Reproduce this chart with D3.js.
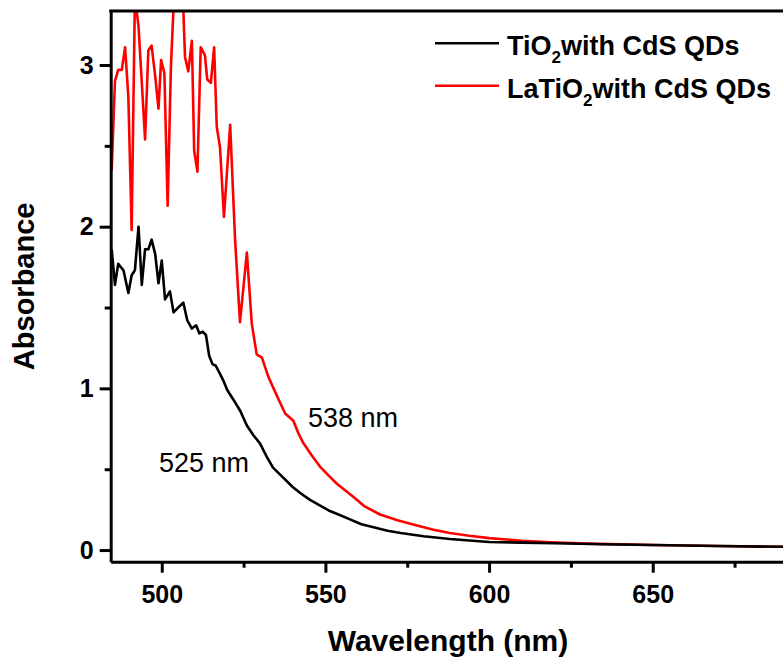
<!DOCTYPE html>
<html>
<meta charset="utf-8">
<style>
    body { margin: 0; background: #fff; }
    svg { display: block; }
    text { font-family: "Liberation Sans", Arial, sans-serif; fill: #000; }
    .axis path, .axis line { stroke: #000; stroke-width: 3; fill: none; }
    .axis text { font-size: 25px; font-weight: bold; }
    .curve { fill: none; stroke-width: 2.6; stroke-linejoin: round; }
</style>
<body>
<div id="chart1"></div>
<script src="https://cdn.jsdelivr.net/npm/d3@7"></script>
<script>
    // black curve: TiO2 with CdS QDs
    var wlBlack = [484.7, 485.7, 486.7, 488.3, 489.8, 490.8, 491.8, 492.9, 493.9, 494.9, 495.9, 496.9, 498.0, 499.0, 500.0,
        501.0, 502.5, 503.6, 505.0, 506.6, 507.8, 509.2, 510.5, 511.5, 512.5, 513.5, 514.5, 515.5, 516.5, 517.8,
        519, 520, 521.9, 524, 526, 528, 530, 532, 534, 536, 538, 540, 542.5, 545.3, 548, 551, 554, 557.5, 561,
        565, 569, 573, 580, 588, 595, 600, 610, 620, 635, 650, 670, 690];
    var absBlack = [1.86, 1.64, 1.77, 1.73, 1.59, 1.70, 1.73, 2.00, 1.64, 1.86, 1.86, 1.92, 1.83, 1.65, 1.79,
        1.55, 1.60, 1.47, 1.50, 1.53, 1.42, 1.37, 1.39, 1.34, 1.35, 1.33, 1.20, 1.15, 1.14, 1.09,
        1.04, 0.99, 0.93, 0.86, 0.77, 0.71, 0.66, 0.58, 0.51, 0.47, 0.43, 0.39, 0.35, 0.31, 0.28, 0.245, 0.22, 0.19, 0.16,
        0.14, 0.12, 0.105, 0.085, 0.068, 0.058, 0.050, 0.046, 0.042, 0.036, 0.031, 0.025, 0.020];

    // red curve: LaTiO2 with CdS QDs
    var wlRed = [484.7, 485.7, 486.7, 487.8, 488.8, 489.8, 490.8, 491.8, 492.9, 493.9, 494.9, 495.9, 496.9, 498.0, 499.0,
        499.8, 500.8, 501.8, 502.8, 503.8, 506.4, 507.1, 508.1, 509.2, 509.9, 510.9, 511.9, 513.2, 513.9, 515.0,
        516.0, 516.8, 517.8, 519.0, 520.9, 522.4, 523.9, 526.0, 527.5, 529.0, 530.6, 532.6, 534.6, 536.2, 537.7,
        540.2, 541.8, 543.3, 546, 548.4, 551, 553.5, 556, 558.5, 562, 566.7, 572, 577.4, 583, 588, 594, 600,
        610, 619, 630, 640, 650, 670, 690];
    var absRed = [2.35, 2.90, 2.97, 2.97, 3.11, 2.80, 1.98, 3.42, 3.24, 2.89, 2.54, 3.09, 3.12, 2.93, 2.73,
        3.03, 2.95, 2.13, 2.99, 3.45, 3.45, 3.05, 2.96, 3.15, 2.47, 2.34, 3.11, 3.06, 2.91, 2.89,
        3.11, 2.62, 2.49, 2.06, 2.63, 1.92, 1.41, 1.84, 1.40, 1.21, 1.19, 1.07, 0.98, 0.91, 0.845,
        0.80, 0.72, 0.66, 0.58, 0.515, 0.46, 0.41, 0.37, 0.33, 0.27, 0.22, 0.185, 0.155, 0.125, 0.105, 0.088, 0.074,
        0.058, 0.048, 0.040, 0.035, 0.031, 0.025, 0.020];

    var xTicks = [500, 550, 600, 650];
    var xMinorTicks = [525, 575, 625, 675];
    var yTicks = [0, 1, 2, 3];
    var yMinorTicks = [0.5, 1.5, 2.5];
    var seriesNames = ["TiO2with CdS QDs", "LaTiO2with CdS QDs"];
    var seriesColors = ["#000000", "#ff0000"];

    var W = 783, H = 662;
    var plot = {left: 110.7, top: 11, bottom: 561.7, right: 783};

    var svg = d3.select("#chart1").append("svg")
        .attr("width", W)
        .attr("height", H);

    var x = d3.scaleLinear().domain([484.4, 689.8]).range([plot.left, plot.right]);
    var y = d3.scaleLinear().domain([-0.072, 3.334]).range([plot.bottom, plot.top]);

    svg.append("clipPath").attr("id", "clip")
        .append("rect")
        .attr("x", plot.left).attr("y", plot.top)
        .attr("width", plot.right - plot.left)
        .attr("height", plot.bottom - plot.top);

    var line = d3.line()
        .x(function (d) { return x(d[0]); })
        .y(function (d) { return y(d[1]); });

    var blackData = d3.zip(wlBlack, absBlack);
    var redData = d3.zip(wlRed, absRed);

    var curves = svg.append("g").attr("clip-path", "url(#clip)");
    curves.append("path").datum(redData)
        .attr("class", "curve").attr("stroke", seriesColors[1]).attr("d", line);
    curves.append("path").datum(blackData)
        .attr("class", "curve").attr("stroke", seriesColors[0]).attr("d", line);

    // minor ticks first so the major axes sit on top
    svg.append("g").attr("class", "axis")
        .attr("transform", "translate(0," + plot.bottom + ")")
        .call(d3.axisBottom(x).tickValues(xMinorTicks).tickSize(6).tickFormat(""))
        .select(".domain").remove();
    svg.append("g").attr("class", "axis")
        .attr("transform", "translate(" + plot.left + ",0)")
        .call(d3.axisLeft(y).tickValues(yMinorTicks).tickSize(6).tickFormat(""))
        .select(".domain").remove();

    var xAxis = svg.append("g").attr("class", "axis")
        .attr("transform", "translate(0," + plot.bottom + ")")
        .call(d3.axisBottom(x).tickValues(xTicks).tickFormat(d3.format("d"))
            .tickSizeInner(11).tickSizeOuter(0).tickPadding(8));
    xAxis.selectAll("text").attr("dy", "0.9em");

    var yAxis = svg.append("g").attr("class", "axis")
        .attr("transform", "translate(" + plot.left + ",0)")
        .call(d3.axisLeft(y).tickValues(yTicks).tickFormat(d3.format("d"))
            .tickSizeInner(11).tickSizeOuter(0).tickPadding(6));

    // top border
    svg.append("line")
        .attr("x1", plot.left - 1.5).attr("x2", plot.right)
        .attr("y1", plot.top).attr("y2", plot.top)
        .attr("stroke", "#000").attr("stroke-width", 3);

    // axis titles
    svg.append("text")
        .attr("x", 448)
        .attr("y", 651)
        .attr("text-anchor", "middle")
        .style("font-size", "30px").style("font-weight", "bold")
        .text("Wavelength (nm)");

    svg.append("text")
        .attr("transform", "translate(34," + ((plot.top + plot.bottom) / 2) + ") rotate(-90)")
        .attr("text-anchor", "middle")
        .style("font-size", "29px").style("font-weight", "bold")
        .text("Absorbance");

    // legend
    var legend = svg.append("g");
    var legendY = [43.3, 85.7];
    seriesNames.forEach(function (name, i) {
        legend.append("line")
            .attr("x1", 435).attr("x2", 499)
            .attr("y1", legendY[i]).attr("y2", legendY[i])
            .attr("stroke", seriesColors[i]).attr("stroke-width", 2.6);
        var parts = name.split("2");
        var t = legend.append("text")
            .attr("x", 507).attr("y", legendY[i] + 12)
            .style("font-size", "27px").style("font-weight", "bold");
        t.append("tspan").text(parts[0]);
        t.append("tspan").attr("dy", 8).style("font-size", "17px").text("2");
        t.append("tspan").attr("dy", -8).text(parts[1]);
    });

    // peak annotations
    svg.append("text").attr("x", 308).attr("y", 427)
        .style("font-size", "27px").text("538 nm");
    svg.append("text").attr("x", 159).attr("y", 472)
        .style("font-size", "27px").text("525 nm");
</script>
</body>
</html>
